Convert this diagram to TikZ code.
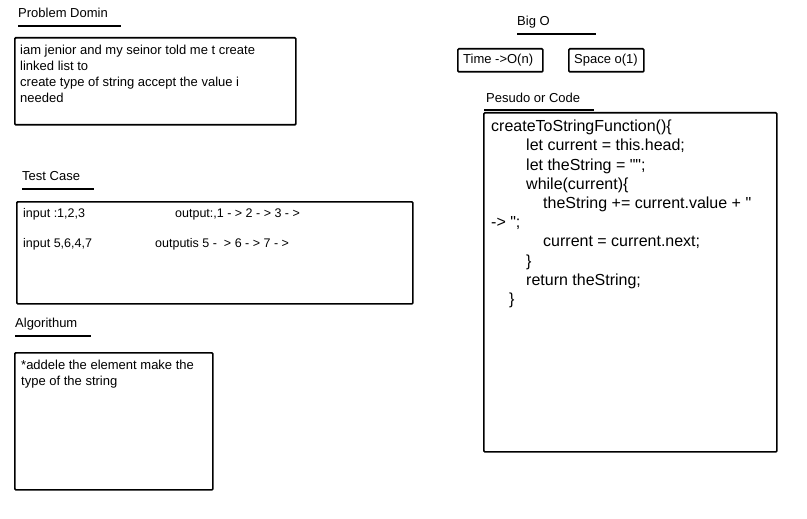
\documentclass[tikz,border=0pt]{standalone}
\usepackage{fontspec}
\setmainfont{Liberation Sans}
\usepackage{tikz}
\usetikzlibrary{positioning}
\tikzstyle{heading} = [anchor=west, inner sep=0pt, font=\fontsize{13}{15}\selectfont]
\tikzstyle{sheet} = [rectangle, draw=black, line width=1.7pt, anchor=north west, inner sep=0pt, rounded corners=1pt]
\tikzstyle{txt} = [anchor=north west, inner sep=0pt, align=left, font=\fontsize{13}{16}\selectfont]
\tikzstyle{row} = [anchor=west, inner sep=0pt, font=\fontsize{12.5}{16}\selectfont]
\tikzstyle{uline} = [line width=1.6pt]

\begin{document}
\begin{tikzpicture}[x=1pt, y=-1pt]
				\useasboundingbox (0,0) rectangle (807,519);
				
				% problem domain
				\node (domainlbl) [heading] at (18,13) {Problem Domin};
				\draw [uline] (18,26) -- (121,26);
				\node (domain) [sheet, minimum width=281pt, minimum height=87pt] at (14,37) {};
				\node (domaintxt) [txt] at (20,44.5) {iam jenior and my seinor told me t create\\linked list to\\create type of string accept the value i\\needed};
				
				% test case
				\node (testlbl) [heading] at (22,176) {Test Case};
				\draw [uline] (22,189) -- (94,189);
				\node (testcase) [sheet, minimum width=396pt, minimum height=102pt] at (16,201) {};
				\node (in1) [row] at (23,214) {input :1,2,3};
				\node (out1) [row] at (175,214) {output:,1 - > 2 - > 3 - >};
				\node (in2) [row] at (23,244) {input 5,6,4,7};
				\node (out2) [row] at (155,244) {outputis 5 - \ > 6 - > 7 - >};
				
				% algorithm
				\node (algolbl) [heading] at (15,324) {Algorithum};
				\draw [uline] (15,336) -- (91,336);
				\node (algo) [sheet, minimum width=198pt, minimum height=137pt] at (14,352) {};
				\node (algotxt) [txt] at (21,359.5) {*addele the element make the\\type of the string};
				
				% big o
				\node (bigolbl) [heading] at (517,22) {Big O};
				\draw [uline] (517,34) -- (596,34);
				\node (time) [sheet, minimum width=85pt, minimum height=23pt] at (457,48) {};
				\node (timetxt) [heading] at (463,60) {Time ->O(n)};
				\node (space) [sheet, minimum width=75pt, minimum height=23pt] at (568,48) {};
				\node (spacetxt) [heading] at (574,60) {Space o(1)};
				
				% pseudo code
				\node (codelbl) [heading] at (486,98) {Pesudo or Code};
				\draw [uline] (484,110) -- (594,110);
				\node (code) [sheet, minimum width=293pt, minimum height=339pt] at (483,112) {};
				\node (codetxt) [txt, font=\fontsize{16}{19.2}\selectfont] at (491,120) {createToStringFunction()\{\\
					\hspace*{35pt}let current = this.head;\\
					\hspace*{35pt}let theString = \textquotedbl\textquotedbl;\\
					\hspace*{35pt}while(current)\{\\
					\hspace*{52pt}theString += current.value + \textquotedbl\\
					-> \textquotedbl;\\
					\hspace*{52pt}current = current.next;\\
					\hspace*{35pt}\}\\
					\hspace*{35pt}return theString;\\
					\hspace*{18pt}\}};
				
\end{tikzpicture}
\end{document}
